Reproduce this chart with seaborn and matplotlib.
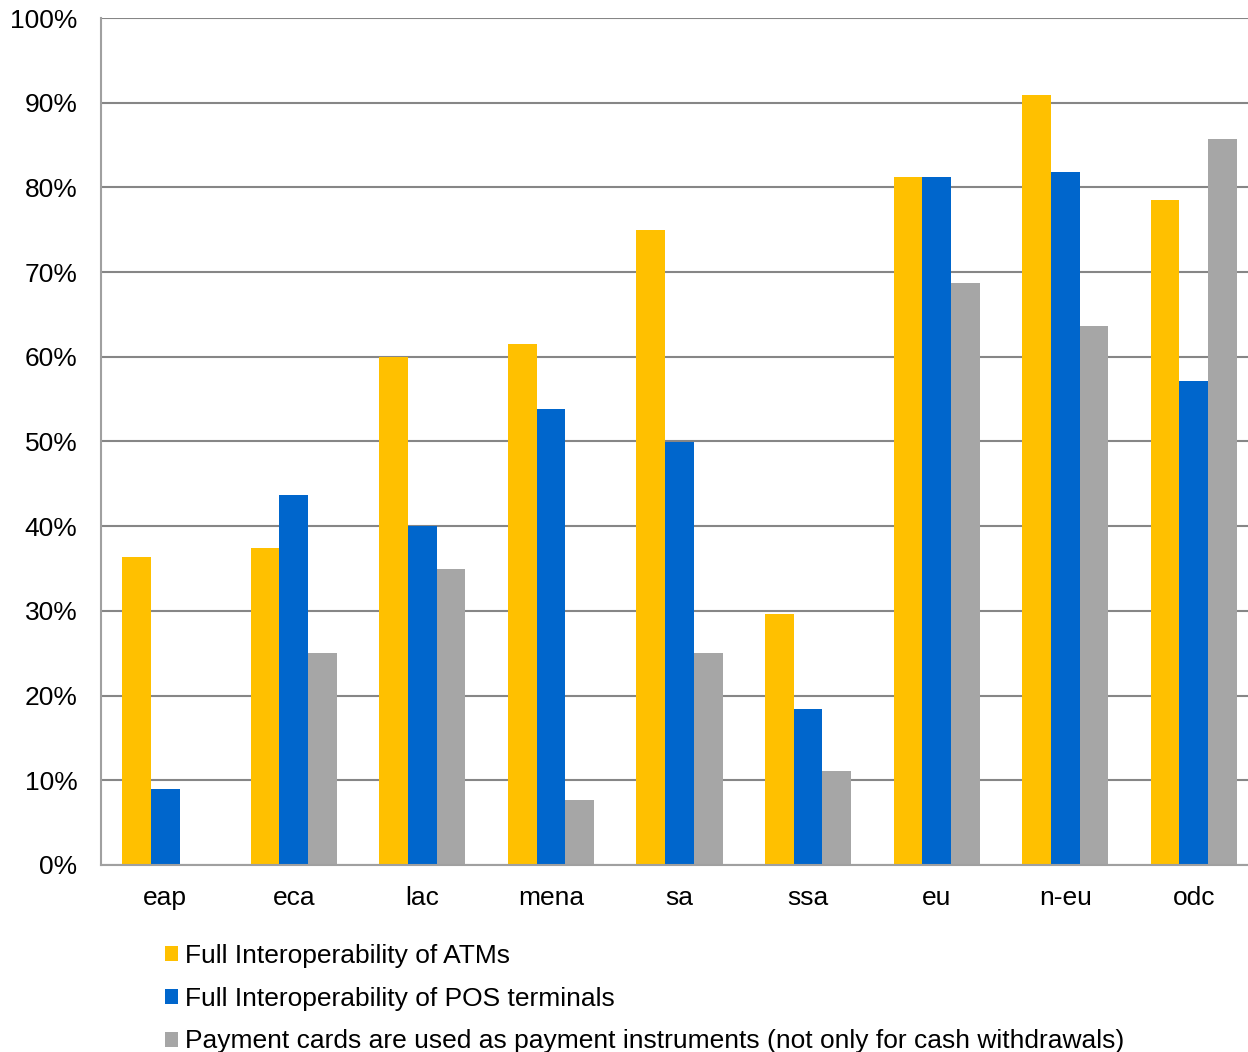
import numpy as np
import pandas as pd
import matplotlib
matplotlib.use("Agg")
import matplotlib.pyplot as plt
import matplotlib.ticker as mticker
from matplotlib.patches import Patch
import seaborn as sns

sns.set_style("white")
plt.rcParams['font.family'] = ['Liberation Sans', 'DejaVu Sans']
plt.rcParams['text.color'] = 'black'
plt.rcParams['xtick.color'] = 'black'
plt.rcParams['ytick.color'] = 'black'

# regions and shares
regions = ["eap", "eca", "lac", "mena", "sa", "ssa", "eu", "n-eu", "odc"]
series = ["Full Interoperability of ATMs",
          "Full Interoperability of POS terminals",
          "Payment cards are used as payment instruments (not only for cash withdrawals)"]
atm = [0.364, 0.374, 0.600, 0.615, 0.750, 0.296, 0.812, 0.909, 0.785]
pos = [0.090, 0.437, 0.400, 0.538, 0.500, 0.184, 0.812, 0.818, 0.571]
cards = [0.0, 0.250, 0.350, 0.077, 0.250, 0.111, 0.687, 0.636, 0.857]
colors = ["#FFC000", "#0066CC", "#A6A6A6"]

df = pd.DataFrame({
    "region": regions * 3,
    "series": [series[0]] * 9 + [series[1]] * 9 + [series[2]] * 9,
    "value": atm + pos + cards,
})

fig = plt.figure(figsize=(12.48, 10.52), dpi=100)
# plot area runs a little past the right edge of the picture
ax = fig.add_axes([101 / 1248, 1 - 865 / 1052, (1258 - 101) / 1248, (865 - 18) / 1052])

sns.barplot(data=df, x="region", y="value", hue="series", order=regions,
            hue_order=series, palette=colors, width=0.67, saturation=1,
            edgecolor="none", ax=ax, legend=False)

ax.set_xlim(-0.5, 8.5)
ax.set_ylim(0, 1)
ax.yaxis.set_major_locator(mticker.MultipleLocator(0.1))
ax.yaxis.set_major_formatter(mticker.PercentFormatter(1.0, decimals=0))
ax.grid(axis="y", color="#868686", linewidth=1.5)
ax.set_axisbelow(True)
ax.set_xlabel("")
ax.set_ylabel("")

for s in ["top", "right"]:
    ax.spines[s].set_visible(False)
for s in ["left", "bottom"]:
    ax.spines[s].set_color("#A0A0A0")
    ax.spines[s].set_linewidth(1.5)

ax.tick_params(axis="y", length=6, width=1.5, color="#A0A0A0", pad=11, labelsize=19)
ax.tick_params(axis="x", which="major", length=0, pad=15, labelsize=19)
ax.set_xticks(np.arange(-0.5, 9, 1), minor=True)
ax.tick_params(axis="x", which="minor", length=6, width=1.5, color="#A0A0A0")

handles = [Patch(facecolor=c, edgecolor="none") for c in colors]
fig.legend(handles, series, loc="upper left", bbox_to_anchor=(165 / 1248, 1 - 944 / 1052),
           frameon=False, fontsize=19, handlelength=0.5, handleheight=0.5,
           handletextpad=0.27, labelspacing=0.71, borderpad=0, borderaxespad=0)

fig.savefig("out.png", dpi=100)
